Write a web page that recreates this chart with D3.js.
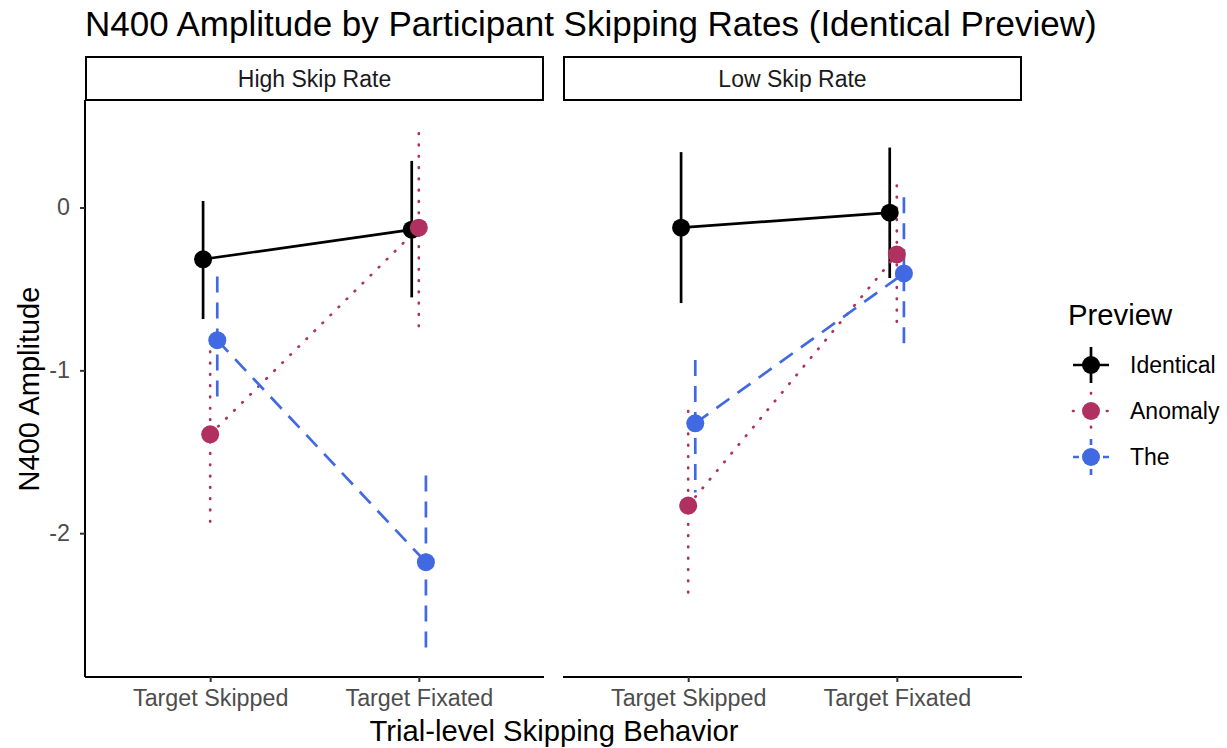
<!DOCTYPE html>
<html><head><meta charset="utf-8">
<script src="https://cdn.jsdelivr.net/npm/d3@7"></script>
<style>body{margin:0;background:#fff}svg{display:block}text{font-family:"Liberation Sans",Arial,Helvetica,sans-serif}</style>
</head><body><svg id="c" width="1227" height="748"></svg>
<script>
const panels = ["High Skip Rate", "Low Skip Rate"];
const categories = ["Target Skipped", "Target Fixated"];
const series = ["Identical", "Anomaly", "The"];
const yTicks = [0, -1, -2];
const yTickLabels = ["0", "-1", "-2"];
// values per panel, per category (Skipped, Fixated)
const identicalMean = [[-0.318, -0.136], [-0.124, -0.032]];
const identicalLow  = [[-0.685, -0.552], [-0.587, -0.433]];
const identicalHigh = [[0.040, 0.286], [0.340, 0.368]];
const anomalyMean = [[-1.393, -0.124], [-1.830, -0.288]];
const anomalyLow  = [[-1.975, -0.738], [-2.410, -0.710]];
const anomalyHigh = [[-0.815, 0.455], [-1.250, 0.135]];
const theMean = [[-0.815, -2.178], [-1.325, -0.405]];
const theLow  = [[-1.213, -2.710], [-1.750, -0.875]];
const theHigh = [[-0.424, -1.645], [-0.936, 0.063]];

const colors = {Identical: "#000000", Anomaly: "#B03060", The: "#4169E1"};
const dashes = {Identical: null, Anomaly: "0.6,10.7", The: "16,10"};
const meanBy = {Identical: identicalMean, Anomaly: anomalyMean, The: theMean};
const lowBy = {Identical: identicalLow, Anomaly: anomalyLow, The: theLow};
const highBy = {Identical: identicalHigh, Anomaly: anomalyHigh, The: theHigh};

const svg = d3.select("#c");
const panelX = [85, 563], panelW = 459, plotTop = 100, plotBottom = 677;
const y = d3.scaleLinear().domain([0.66, -2.883]).range([plotTop, plotBottom]);
const dodge = d3.scalePoint().domain(series).range([-0.034, 0.034]);
const cap = s => s === "Anomaly" ? "round" : "butt";
const lw = 2.7;

// title
svg.append("text").attr("x", 85).attr("y", 36).attr("font-size", 35).attr("fill", "#000")
  .text("N400 Amplitude by Participant Skipping Rates (Identical Preview)");

panels.forEach((p, pi) => {
  const x = d3.scaleLinear().domain([0.4, 2.6]).range([panelX[pi], panelX[pi] + panelW]);
  const g = svg.append("g");
  // strip
  g.append("rect").attr("x", panelX[pi] + 1).attr("y", 57).attr("width", panelW - 2).attr("height", 43)
    .attr("fill", "#fff").attr("stroke", "#000").attr("stroke-width", 2);
  g.append("text").attr("x", panelX[pi] + panelW / 2).attr("y", 87).attr("text-anchor", "middle")
    .attr("font-size", 23).attr("fill", "#1a1a1a").text(p);
  // x axis
  const xa = g.append("g").attr("transform", `translate(0,${plotBottom})`)
    .call(d3.axisBottom(x).tickValues([1, 2]).tickFormat((d, i) => categories[i]).tickSize(5).tickPadding(7));
  xa.select(".domain").attr("stroke-width", 2).attr("d", `M${panelX[pi]},0H${panelX[pi] + panelW}`);
  xa.selectAll(".tick line").attr("stroke", "#333").attr("stroke-width", 2);
  xa.selectAll(".tick text").attr("font-size", 23.3).attr("fill", "#4d4d4d").attr("font-family", "Liberation Sans, Arial, sans-serif");
  if (pi === 0) {
    const ya = g.append("g").attr("transform", `translate(${panelX[0]},0)`)
      .call(d3.axisLeft(y).tickValues(yTicks).tickFormat((d, i) => yTickLabels[i]).tickSize(5).tickPadding(10));
    ya.select(".domain").attr("stroke-width", 2).attr("d", `M0,${plotTop}V${plotBottom}`);
    ya.selectAll(".tick line").attr("stroke", "#333").attr("stroke-width", 2);
    ya.selectAll(".tick text").attr("font-size", 23.3).attr("fill", "#4d4d4d").attr("font-family", "Liberation Sans, Arial, sans-serif");
  }
  const pts = s => categories.map((c, ci) => ({
    x: x(ci + 1 + dodge(s)), y: y(meanBy[s][pi][ci]), lo: y(lowBy[s][pi][ci]), hi: y(highBy[s][pi][ci])
  }));
  const line = d3.line().x(d => d.x).y(d => d.y);
  series.forEach(s => {
    const d = pts(s);
    g.append("path").attr("d", line(d)).attr("fill", "none").attr("stroke", colors[s])
      .attr("stroke-width", lw).attr("stroke-dasharray", dashes[s]).attr("stroke-linecap", cap(s));
    d.forEach(e => {
      g.append("line").attr("x1", e.x).attr("x2", e.x).attr("y1", e.hi).attr("y2", e.lo)
        .attr("stroke", colors[s]).attr("stroke-width", lw).attr("stroke-dasharray", dashes[s])
        .attr("stroke-linecap", cap(s));
    });
  });
  series.forEach(s => {
    pts(s).forEach(e => g.append("circle").attr("cx", e.x).attr("cy", e.y).attr("r", 9).attr("fill", colors[s]));
  });
});

// axis titles
svg.append("text").attr("x", 554).attr("y", 741).attr("text-anchor", "middle").attr("font-size", 29.2).text("Trial-level Skipping Behavior");
svg.append("text").attr("transform", "translate(39,389) rotate(-90)").attr("text-anchor", "middle").attr("font-size", 29).text("N400 Amplitude");

// legend
const lg = svg.append("g");
lg.append("text").attr("x", 1068).attr("y", 325).attr("font-size", 29.3).text("Preview");
series.forEach((s, i) => {
  const cy = 365 + i * 46, cx = 1091;
  const ld = s === "The" ? "6,4" : dashes[s];
  lg.append("line").attr("x1", cx - 18).attr("x2", cx + 18).attr("y1", cy).attr("y2", cy)
    .attr("stroke", colors[s]).attr("stroke-width", lw).attr("stroke-dasharray", ld).attr("stroke-linecap", cap(s));
  lg.append("line").attr("x1", cx).attr("x2", cx).attr("y1", cy - 18).attr("y2", cy + 18)
    .attr("stroke", colors[s]).attr("stroke-width", lw).attr("stroke-dasharray", ld).attr("stroke-linecap", cap(s));
  lg.append("circle").attr("cx", cx).attr("cy", cy).attr("r", 9).attr("fill", colors[s]);
  lg.append("text").attr("x", 1130).attr("y", cy + 8).attr("font-size", 23).text(s);
});
</script></body></html>
